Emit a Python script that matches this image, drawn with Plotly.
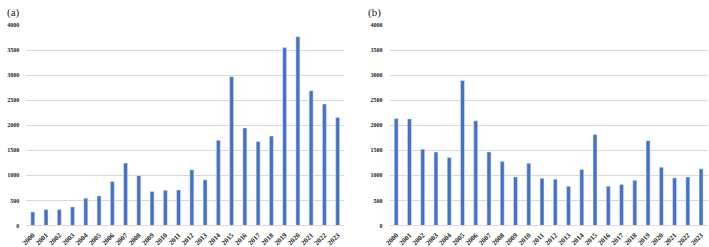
import plotly.graph_objects as go

years = [str(y) for y in range(2000, 2024)]
values_a = [268, 318, 320, 370, 545, 590, 877, 1245, 994, 675, 701, 708,
            1111, 911, 1699, 2968, 1945, 1675, 1783, 3548, 3767, 2687, 2422, 2155]
values_b = [2132, 2126, 1522, 1466, 1358, 2890, 2087, 1466, 1280, 968, 1243, 940,
            922, 780, 1115, 1813, 780, 818, 902, 1692, 1162, 948, 966, 1130]
y_ticks = [0, 500, 1000, 1500, 2000, 2500, 3000, 3500, 4000]
panel_labels = ["(a)", "(b)"]

W, H = 709, 247
BLUE = "#4472C4"
GRID = "#d9d9d9"
ytickfont = dict(family="Liberation Serif", size=6, color="#222222")
xtickfont = dict(family="Liberation Serif", size=7, color="#222222")
bold_years = ["<b>%s</b>" % y for y in years]
bold_yt = ["<b>%d</b>" % v for v in y_ticks]

fig = go.Figure()
fig.add_trace(go.Bar(x=years, y=values_a, marker_color=BLUE, xaxis="x", yaxis="y",
                     showlegend=False))
fig.add_trace(go.Bar(x=years, y=values_b, marker_color=BLUE, xaxis="x2", yaxis="y2",
                     showlegend=False))

y_dom = [(H - 228) / H, (H - 22.5) / H]
xa_dom = [21.3 / W, 341.7 / W]
xb_dom = [387.3 / W, 707.7 / W]

common_x = dict(type="category", range=[-0.5, 23.5], tickfont=xtickfont,
                tickmode="array", tickvals=years, ticktext=bold_years,
                tickangle=-45, showgrid=False, showline=True, linecolor=GRID,
                linewidth=1, ticks="", ticklabelstandoff=2)
common_y = dict(range=[0, 4000], tickmode="array", tickvals=y_ticks, ticktext=bold_yt,
                tickfont=ytickfont, showgrid=True,
                gridcolor=GRID, gridwidth=1, zeroline=False, showline=False, ticks="",
                ticklabelstandoff=6)

fig.update_layout(
    width=W, height=H,
    margin=dict(l=0, r=0, t=0, b=0),
    paper_bgcolor="white", plot_bgcolor="white",
    bargap=0.7,
    xaxis=dict(domain=xa_dom, anchor="y", **common_x),
    yaxis=dict(domain=y_dom, anchor="x", **common_y),
    xaxis2=dict(domain=xb_dom, anchor="y2", **common_x),
    yaxis2=dict(domain=y_dom, anchor="x2", **common_y),
    annotations=[
        dict(text=panel_labels[0], x=0 / W, y=(H - 1) / H, xref="paper", yref="paper",
             xanchor="left", yanchor="top", showarrow=False,
             font=dict(family="Liberation Serif", size=11, color="#222222")),
        dict(text=panel_labels[1], x=364 / W, y=(H - 1) / H, xref="paper", yref="paper",
             xanchor="left", yanchor="top", showarrow=False,
             font=dict(family="Liberation Serif", size=11, color="#222222")),
    ],
)

fig.write_html("out.html")
